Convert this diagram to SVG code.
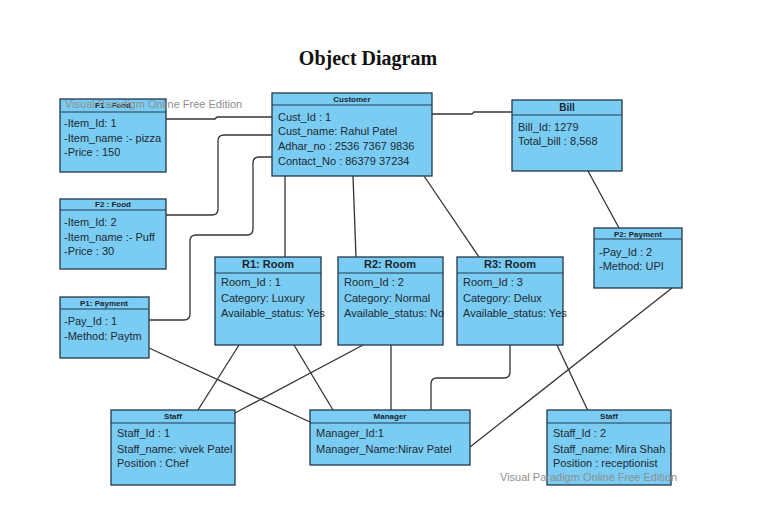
<svg xmlns="http://www.w3.org/2000/svg" width="768" height="509" viewBox="0 0 768 509">
<style>
.box{fill:#7accf2;stroke:#22384a;stroke-width:1.3}
.div{stroke:#22384a;stroke-width:1.1}
.hd{font-family:"Liberation Sans",Arial,sans-serif;font-weight:bold;font-size:8px;fill:#1a2530;text-anchor:middle}
.hdl{font-family:"Liberation Sans",Arial,sans-serif;font-weight:bold;font-size:11px;fill:#1a2530;text-anchor:middle}
.tx{font-family:"Liberation Sans",Arial,sans-serif;font-size:11px;fill:#1e2a33}
.wm{font-family:"Liberation Sans",Arial,sans-serif;font-size:11px;fill:#8f8f8f}
.cn{fill:none;stroke:#333;stroke-width:1.3}
</style>
<rect width="768" height="509" fill="#fff"/>
<text x="368" y="65" font-family="Liberation Serif,serif" font-weight="bold" font-size="20" text-anchor="middle" fill="#111">Object Diagram</text>

<g id="connectors">
<polyline class="cn" points="166,119 215,119 217,117 272,117"/>
<path class="cn" d="M166,215 H212 Q218,215 218,209 V141 Q218,135 224,135 H272"/>
<path class="cn" d="M149,320 H184 Q190,320 190,314 V241 Q190,235 196,235 H247 Q253,235 253,229 V163 Q253,157 259,157 H272"/>
<polyline class="cn" points="432,114 472,114 474,112 512,112"/>
<line class="cn" x1="285" y1="176" x2="285" y2="257"/>
<line class="cn" x1="353" y1="176" x2="356" y2="257"/>
<line class="cn" x1="424" y1="176" x2="479" y2="257"/>
<line class="cn" x1="588" y1="171" x2="619" y2="228"/>
<line class="cn" x1="672" y1="288" x2="470" y2="447"/>
<line class="cn" x1="557" y1="345" x2="588" y2="411"/>
<path class="cn" d="M510,345 V372 Q510,378 504,378 H437 Q431,378 431,384 V410"/>
<line class="cn" x1="391" y1="345" x2="391" y2="410"/>
<line class="cn" x1="363" y1="345" x2="235" y2="413"/>
<line class="cn" x1="239" y1="345" x2="198" y2="410"/>
<line class="cn" x1="294" y1="345" x2="333" y2="410"/>
<line class="cn" x1="149" y1="348" x2="310" y2="422"/>
</g>

<g id="f1">
<rect class="box" x="60" y="99" width="106" height="73"/>
<line class="div" x1="60" y1="112" x2="166" y2="112"/>
<text class="hd" x="113" y="108">F1 : Food</text>
<text class="tx" x="64" y="127">-Item_Id: 1</text>
<text class="tx" x="64" y="142">-Item_name :- pizza</text>
<text class="tx" x="64" y="156">-Price : 150</text>
</g>

<g id="customer">
<rect class="box" x="272" y="93" width="160" height="83"/>
<line class="div" x1="272" y1="105" x2="432" y2="105"/>
<text class="hd" x="352" y="102">Customer</text>
<text class="tx" x="278" y="121">Cust_Id : 1</text>
<text class="tx" x="278" y="135">Cust_name: Rahul Patel</text>
<text class="tx" x="278" y="150">Adhar_no : 2536 7367 9836</text>
<text class="tx" x="278" y="165">Contact_No :  86379 37234</text>
</g>

<g id="bill">
<rect class="box" x="512" y="100" width="110" height="71"/>
<line class="div" x1="512" y1="115" x2="622" y2="115"/>
<text class="hdl" x="567" y="111" style="font-size:10px">Bill</text>
<text class="tx" x="518" y="131">Bill_Id: 1279</text>
<text class="tx" x="518" y="145">Total_bill : 8,568</text>
</g>

<g id="f2">
<rect class="box" x="60" y="199" width="106" height="70"/>
<line class="div" x1="60" y1="210" x2="166" y2="210"/>
<text class="hd" x="113" y="207">F2 : Food</text>
<text class="tx" x="64" y="226">-Item_Id: 2</text>
<text class="tx" x="64" y="241">-Item_name :- Puff</text>
<text class="tx" x="64" y="255">-Price : 30</text>
</g>

<g id="r1">
<rect class="box" x="215" y="257" width="106" height="88"/>
<line class="div" x1="215" y1="273" x2="321" y2="273"/>
<text class="hdl" x="268" y="268">R1: Room</text>
<text class="tx" x="221" y="286">Room_Id : 1</text>
<text class="tx" x="221" y="302">Category: Luxury</text>
<text class="tx" x="221" y="317">Available_status: Yes</text>
</g>

<g id="r2">
<rect class="box" x="338" y="257" width="105" height="88"/>
<line class="div" x1="338" y1="273" x2="443" y2="273"/>
<text class="hdl" x="390" y="268">R2: Room</text>
<text class="tx" x="344" y="286">Room_Id : 2</text>
<text class="tx" x="344" y="302">Category: Normal</text>
<text class="tx" x="344" y="317">Available_status: No</text>
</g>

<g id="r3">
<rect class="box" x="457" y="257" width="106" height="88"/>
<line class="div" x1="457" y1="273" x2="563" y2="273"/>
<text class="hdl" x="510" y="268">R3: Room</text>
<text class="tx" x="463" y="286">Room_Id : 3</text>
<text class="tx" x="463" y="302">Category: Delux</text>
<text class="tx" x="463" y="317">Available_status: Yes</text>
</g>

<g id="p1">
<rect class="box" x="60" y="297" width="89" height="61"/>
<line class="div" x1="60" y1="309" x2="149" y2="309"/>
<text class="hd" x="104" y="306">P1: Payment</text>
<text class="tx" x="64" y="325">-Pay_Id : 1</text>
<text class="tx" x="64" y="340">-Method: Paytm</text>
</g>

<g id="p2">
<rect class="box" x="594" y="228" width="88" height="60"/>
<line class="div" x1="594" y1="239" x2="682" y2="239"/>
<text class="hd" x="638" y="237">P2: Payment</text>
<text class="tx" x="599" y="256">-Pay_Id : 2</text>
<text class="tx" x="599" y="270">-Method: UPI</text>
</g>

<g id="staff1">
<rect class="box" x="111" y="410" width="124" height="75"/>
<line class="div" x1="111" y1="423" x2="235" y2="423"/>
<text class="hd" x="173" y="419">Staff</text>
<text class="tx" x="117" y="437">Staff_Id : 1</text>
<text class="tx" x="117" y="453">Staff_name: vivek Patel</text>
<text class="tx" x="117" y="467">Position : Chef</text>
</g>

<g id="manager">
<rect class="box" x="310" y="410" width="160" height="55"/>
<line class="div" x1="310" y1="423" x2="470" y2="423"/>
<text class="hd" x="390" y="419">Manager</text>
<text class="tx" x="316" y="437">Manager_Id:1</text>
<text class="tx" x="316" y="453">Manager_Name:Nirav Patel</text>
</g>

<g id="staff2">
<rect class="box" x="547" y="410" width="124" height="75"/>
<line class="div" x1="547" y1="423" x2="671" y2="423"/>
<text class="hd" x="609" y="419">Staff</text>
<text class="tx" x="553" y="437">Staff_Id : 2</text>
<text class="tx" x="553" y="453">Staff_name: Mira Shah</text>
<text class="tx" x="553" y="467">Position : receptionist</text>
</g>

<text class="wm" x="65" y="108">Visual Paradigm Online Free Edition</text>
<text class="wm" x="500" y="481">Visual Paradigm Online Free Edition</text>
</svg>
